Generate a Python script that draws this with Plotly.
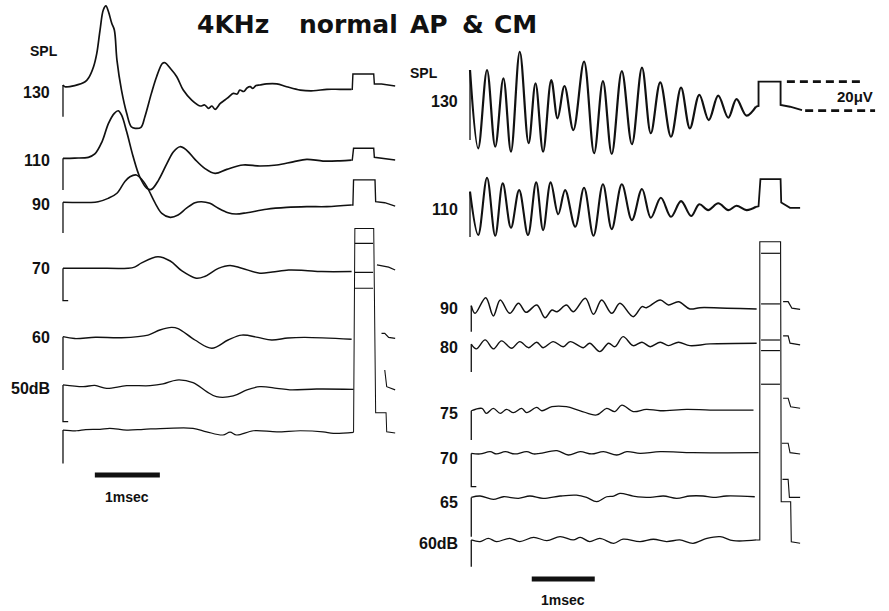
import plotly.graph_objects as go

# ===================== DATA =====================
# time in ms after stimulus onset; amplitude in µV relative to each trace's own baseline

# ---- Left panel: whole-nerve AP, 4 kHz ----
left_labels = ["130", "110", "90", "70", "60", "50dB", ""]

L130_t = [0.00, 0.03, 0.18, 0.34, 0.39, 0.47, 0.52, 0.57, 0.62, 0.66, 0.70, 0.75, 0.79, 0.83, 0.90, 0.98,
          1.05, 1.11, 1.20, 1.26, 1.36, 1.44, 1.53, 1.57, 1.65, 1.75, 1.85, 1.98, 2.11, 2.18, 2.24, 2.29,
          2.34, 2.42, 2.49, 2.55, 2.62, 2.68, 2.72, 2.78, 2.83, 2.88, 2.92, 2.97, 3.03, 3.13, 3.29, 3.44,
          3.65, 3.85, 4.06, 4.26, 4.44]
L130_v = [2.1, 0.9, 1.7, 4.3, 6.7, 14.7, 23.9, 40.0, 53.8, 56.6, 52.6, 44.6, 40.0, 19.3, -1.4, -17.4,
          -26.7, -27.8, -27.1, -19.8, -3.7, 7.8, 17.0, 17.4, 13.6, 7.8, -1.4, -8.3, -12.4, -11.7, -14.0, -12.4,
          -14.7, -10.6, -8.3, -6.2, -3.7, -4.1, -1.4, -2.4, 0.0, 0.9, -0.3, 1.7, 2.1, 2.8, 2.8, 0.9,
          -1.4, -1.9, -0.9, -0.9, -0.9]
L110_t = [0.00, 0.18, 0.39, 0.49, 0.60, 0.70, 0.79, 0.85, 0.90, 0.98, 1.08, 1.18, 1.29, 1.36, 1.47, 1.60,
          1.70, 1.80, 1.90, 2.03, 2.18, 2.34, 2.52, 2.77, 3.03, 3.29, 3.54, 3.75, 4.00, 4.26, 4.44]
L110_v = [-0.2, 0.0, 0.5, 2.8, 11.2, 23.9, 30.8, 32.6, 29.7, 18.1, 0.9, -12.9, -20.9, -21.6, -15.2, -3.7,
          4.3, 7.8, 5.5, -0.9, -7.1, -10.6, -7.8, -4.8, -5.5, -4.8, -2.6, -0.9, -2.1, -1.9, -1.4]
L90_t = [0.00, 0.54, 0.70, 0.83, 0.95, 1.03, 1.13, 1.21, 1.29, 1.42, 1.52, 1.65, 1.77, 1.90, 2.03, 2.13,
         2.26, 2.39, 2.54, 2.66, 2.83, 3.13, 3.44, 3.75, 4.06, 4.44]
L90_v = [-0.2, 0.2, 2.6, 6.0, 14.0, 17.4, 18.6, 15.7, 10.6, -0.9, -7.8, -10.6, -9.0, -4.3, -0.5, 0.2,
         -0.9, -4.3, -7.4, -8.3, -7.4, -5.0, -3.7, -3.2, -3.2, -2.1]
L70_t = [0.00, 0.50, 1.00, 1.10, 1.21, 1.46, 1.65, 1.83, 2.05, 2.18, 2.39, 2.57, 2.75, 3.03, 3.22, 3.47,
         3.72, 3.98, 4.44]
L70_v = [0.0, 0.0, 0.0, 0.8, 3.7, 8.0, 5.0, -1.9, -6.9, -5.7, -0.1, 1.9, 0.0, -3.4, -2.6, -1.2,
         -1.5, -2.3, -2.3]
L60_t = [0.00, 0.18, 0.50, 0.90, 1.31, 1.49, 1.67, 1.77, 2.03, 2.29, 2.54, 2.75, 3.00, 3.21, 3.46, 3.72, 4.44]
L60_v = [0.6, -0.7, 0.2, -0.1, 1.7, 5.2, 7.0, 6.2, -1.7, -7.4, -1.7, 1.7, 0.1, -1.7, -0.3, 0.1, -1.2]
L50_t = [0.00, 0.31, 0.49, 0.67, 0.98, 1.34, 1.54, 1.75, 2.00, 2.21, 2.36, 2.62, 2.83, 3.03, 3.29, 3.49,
         3.90, 4.47]
L50_v = [0.0, -1.2, -0.3, -2.3, -0.5, -0.5, 0.7, 3.4, 1.6, -4.6, -8.1, -7.6, -3.4, -1.2, -2.3, -3.4,
         -2.8, -3.0]
L40_t = [0.00, 0.21, 0.35, 0.57, 0.72, 0.98, 1.24, 1.60, 2.00, 2.21, 2.46, 2.57, 2.67, 2.93, 3.29, 3.65,
         4.00, 4.16, 4.47]
L40_v = [0.0, -0.5, 0.3, 0.5, 1.2, 0.0, 0.5, 1.2, 1.2, -1.2, -3.4, -1.4, -3.4, -0.5, -1.2, -0.5,
         -1.2, -2.3, -1.6]
left_waves = [(L130_t, L130_v), (L110_t, L110_v), (L90_t, L90_v), (L70_t, L70_v),
              (L60_t, L60_v), (L50_t, L50_v), (L40_t, L40_v)]

# stimulus artifacts / post-stimulus tails (left)
left_art = [
    ([4.44, 4.45, 4.46, 4.78, 4.79, 4.90, 5.11], [-0.9, -0.9, 9.7, 9.7, 2.8, 2.8, 1.4]),
    ([4.44, 4.45, 4.47, 4.78, 4.79, 4.95, 5.11], [-1.4, -1.4, 6.7, 6.7, 0.5, -0.2, -1.4]),
    ([4.44, 4.46, 4.47, 4.80, 4.81, 4.95, 5.11], [-2.1, -2.1, 15.2, 15.2, 0.2, -0.5, -2.8]),
    ([4.83, 5.01, 5.11], [2.3, 0.7, -1.2]),
    ([4.90, 4.95, 5.01, 5.11], [2.9, 2.9, 0.1, -0.6]),
    ([4.95, 4.98, 5.11], [10.3, -1.2, -3.4]),
    ([4.47, 4.49, 4.78, 4.81, 4.97, 4.98, 5.11], [-1.6, 139.0, 139.0, 11.9, 11.9, -1.2, -2.1]),
]
left_box_lines = [17.2, -2.8, -13.8]          # saturated pulse levels (rel. 70 dB trace)
left_marker_depth = [-19.8, -22.1, -21.4, -22.3, -22.4, -25.3, -23.0]
left_marker_tick = [False, False, False, True, False, True, False]

# ---- Right panel: cochlear microphonic (CM), 4 kHz ----
right_labels = ["130", "110", "90", "80", "75", "70", "65", "60dB"]

R130_t = [0.00, 0.13, 0.27, 0.40, 0.53, 0.65, 0.79, 0.93, 1.04, 1.16, 1.29, 1.39, 1.50, 1.64, 1.81, 1.97,
          2.11, 2.25, 2.41, 2.57, 2.73, 2.87, 3.02, 3.19, 3.35, 3.49, 3.64, 3.79, 3.94, 4.10, 4.23, 4.39, 4.54]
R130_v = [24.8, -29.2, 24.8, -28.1, 19.1, -31.5, 37.4, -25.7, 15.7, -31.5, 17.9, -8.5, 13.8, -16.6, 30.6,
          -32.6, 17.2, -33.1, 24.1, -26.4, 26.4, -18.8, 16.3, -21.2, 12.6, -15.4, 7.6, -9.7, 7.1, -8.1, 4.8,
          -6.7, -0.5]
R110_t = [0.00, 0.13, 0.27, 0.40, 0.52, 0.65, 0.78, 0.92, 1.05, 1.16, 1.28, 1.40, 1.51, 1.67, 1.81, 1.96,
          2.11, 2.25, 2.41, 2.57, 2.73, 2.87, 3.03, 3.19, 3.35, 3.51, 3.64, 3.78, 3.94, 4.10, 4.23, 4.39, 4.54]
R110_v = [10.6, -19.3, 20.2, -19.8, 16.3, -14.3, 11.7, -19.3, 17.0, -15.9, 17.0, -5.0, 11.7, -13.6, 13.3,
          -19.8, 15.7, -15.2, 15.7, -9.0, 12.4, -7.4, 6.4, -6.7, 4.1, -6.2, 1.9, -2.1, 2.6, -2.1, 0.9, -2.1, 0.2]
R90_t = [0.02, 0.08, 0.25, 0.37, 0.48, 0.63, 0.77, 0.89, 1.06, 1.19, 1.30, 1.38, 1.53, 1.64, 1.83, 1.96,
         2.09, 2.25, 2.38, 2.59, 2.73, 2.80, 3.02, 3.15, 3.31, 3.49, 3.65, 3.97, 4.29, 4.55]
R90_v = [2.3, -3.0, 7.8, -4.8, 6.2, -3.0, 3.9, -2.3, 2.8, -6.0, -0.7, -1.9, 2.8, -1.9, 7.4, -3.7,
         6.2, -3.0, 3.9, -5.3, 1.6, 0.9, 6.2, 2.8, 5.0, 0.0, 0.9, 0.7, 0.3, 0.0]
R80_t = [0.02, 0.10, 0.24, 0.37, 0.50, 0.66, 0.79, 0.93, 1.06, 1.16, 1.32, 1.48, 1.59, 1.80, 1.90, 2.06,
         2.20, 2.30, 2.43, 2.59, 2.73, 2.86, 3.02, 3.15, 3.31, 3.49, 3.81, 4.55]
R80_v = [-0.2, -3.4, 2.8, -3.4, 2.1, -3.0, 1.6, -2.6, 1.2, -2.6, 1.6, -1.9, 1.6, -2.6, 0.5, -5.3,
         0.5, -1.9, 5.0, -1.2, 1.2, -1.9, 1.2, -1.2, 1.2, -1.2, 0.0, 0.5]
R75_t = [0.02, 0.19, 0.26, 0.37, 0.48, 0.58, 0.69, 0.82, 0.90, 1.06, 1.14, 1.30, 1.53, 1.75, 2.01, 2.17,
         2.30, 2.41, 2.59, 2.80, 3.02, 3.44, 3.81, 4.50]
R75_v = [-0.5, 1.1, -2.3, 1.1, -2.3, 0.5, -1.8, 1.1, -1.8, 1.8, -0.5, 2.3, 2.3, -0.5, -3.4, 1.1,
         -1.1, 3.4, -1.1, 0.5, -0.5, 0.5, 0.0, 0.0]
R70_t = [0.02, 0.16, 0.32, 0.42, 0.56, 0.71, 0.90, 1.01, 1.11, 1.38, 1.56, 1.75, 1.93, 2.12, 2.33, 2.49,
         2.70, 3.02, 3.54, 4.58]
R70_v = [-0.5, -0.9, 0.7, -0.9, 0.7, -0.9, 0.7, -0.9, -0.5, 1.4, -1.6, 0.7, -0.9, 0.7, -1.6, 0.7,
         -0.5, 0.7, 0.0, 0.0]
R65_t = [0.02, 0.16, 0.37, 0.53, 0.77, 0.95, 1.16, 1.43, 1.69, 1.85, 2.01, 2.17, 2.28, 2.38, 2.59, 2.86,
         3.07, 3.28, 3.49, 3.70, 3.86, 4.07, 4.52]
R65_v = [-0.5, 0.5, -1.8, 0.0, -1.1, 0.5, -1.1, 0.5, 1.1, -0.5, -3.4, 0.0, 0.5, 2.3, 0.5, -0.5,
         0.5, -1.1, 0.5, 0.5, -0.5, 0.5, 0.0]
R60_t = [0.02, 0.16, 0.29, 0.42, 0.63, 0.79, 1.01, 1.22, 1.43, 1.64, 1.75, 1.90, 2.06, 2.28, 2.43, 2.70,
         2.91, 3.12, 3.33, 3.54, 3.76, 3.97, 4.18, 4.55]
R60_v = [0.0, -1.1, 1.1, -1.1, 1.1, -1.1, 1.8, -0.5, 2.3, 0.0, 1.8, -1.1, 1.1, -2.3, 0.5, -1.1,
         0.5, -1.1, 0.0, -2.3, 1.1, 2.3, -0.5, 0.0]
right_waves = [(R130_t, R130_v), (R110_t, R110_v), (R90_t, R90_v), (R80_t, R80_v),
               (R75_t, R75_v), (R70_t, R70_v), (R65_t, R65_v), (R60_t, R60_v)]

right_art = [
    ([4.54, 4.58, 4.58, 4.93, 4.93, 5.08, 5.27], [-0.5, 0.0, 16.8, 16.8, 0.7, -0.5, -2.8]),
    ([4.54, 4.58, 4.61, 4.93, 4.94, 5.08, 5.24], [0.2, 0.5, 19.3, 19.3, 3.2, -0.5, -0.5]),
    ([4.97, 5.05, 5.11, 5.24], [5.0, 5.0, 0.5, -0.2]),
    ([4.97, 5.05, 5.08, 5.24], [5.5, 5.5, 0.5, -0.7]),
    ([4.97, 5.05, 5.09, 5.24], [8.1, 8.1, 2.3, 1.2]),
    ([4.95, 5.05, 5.08, 5.24], [6.5, 6.5, 0.0, -0.9]),
    ([4.96, 5.05, 5.07, 5.24], [12.0, 12.0, -0.4, -0.4]),
    ([4.55, 4.60, 4.60, 4.93, 4.94, 5.09, 5.10, 5.24], [0.0, 0.0, 205.7, 205.7, 26.4, 26.4, -1.2, -2.3]),
]
right_box_lines = [197.7, 162.8, 137.9, 130.6, 107.4]   # rel. 60 dB trace
right_marker_depth = [-23.4, -20.7, -15.7, -19.3, -20.7, -23.4, -27.6, -18.4]
right_marker_tick = [False, False, False, False, False, True, False, False]

CAL_UV = 20.0        # calibration bar, µV
SCALE_MS = 1.0       # time scale bar, ms

title_words = ["4KHz", "normal", "AP", "&", "CM"]

# ===================== LAYOUT CONSTANTS =====================
left_offsets = [-60.7, -109.0, -139.3, -185.0, -232.8, -265.5, -296.6]
right_offsets = [-73.1, -142.8, -213.1, -237.2, -282.8, -312.2, -342.6, -372.4]
left_label_dy = [-2.8, -1.4, -1.4, 0.0, 0.0, -2.1, 0.0]
right_label_dy = [3.0, -1.4, 0.0, -2.8, -2.1, -3.7, -3.7, -2.1]
title_x_px = [195, 297, 408, 460, 492]

FONT = "Liberation Sans, Arial, Helvetica, sans-serif"
TFONT = "DejaVu Sans, Liberation Sans, sans-serif"
INK = "#111111"

fig = go.Figure()


def line(x, y, axis, width, shape="linear", dash=None):
    fig.add_trace(go.Scatter(
        x=x, y=y, xaxis=axis, yaxis="y", mode="lines",
        line=dict(color=INK, width=width, shape=shape, smoothing=1.0, dash=dash),
        hoverinfo="skip", showlegend=False))


def panel(waves, arts, offsets, depths, ticks, axis, widths):
    for i, ((t, v), (at, av), off) in enumerate(zip(waves, arts, offsets)):
        line(t, [off + a for a in v], axis, widths[i], shape="spline")
        line(at, [off + a for a in av], axis, widths[i] * 0.85)
        t0 = t[0]
        mx = [t0, t0]
        my = [off + v[0], off + depths[i]]
        if ticks[i]:
            mx.append(t0 + 0.08)
            my.append(off + depths[i])
        line(mx, my, axis, 1.3)


panel(left_waves, left_art, left_offsets, left_marker_depth, left_marker_tick, "x",
      [1.7, 1.7, 1.6, 1.5, 1.4, 1.3, 1.2])
panel(right_waves, right_art, right_offsets, right_marker_depth, right_marker_tick, "x2",
      [2.2, 2.1, 1.5, 1.4, 1.3, 1.3, 1.3, 1.3])

# saturated pulse inner levels
for lv in left_box_lines:
    line([4.49, 4.77], [left_offsets[3] + lv] * 2, "x", 1.2)
for lv in right_box_lines:
    line([4.62, 4.92], [right_offsets[7] + lv] * 2, "x2", 1.2)

# 20 µV calibration (dashed) next to the 130 dB CM trace
cal_top = right_art[0][1][2]
line([5.03, 6.22], [right_offsets[0] + cal_top] * 2, "x2", 2.6, dash="8px,5px")
line([5.32, 6.43], [right_offsets[0] + cal_top - CAL_UV] * 2, "x2", 2.6, dash="8px,5px")

# 1 ms scale bars
line([0.49, 0.49 + SCALE_MS], [-327.6, -327.6], "x", 5)
line([0.98, 0.98 + SCALE_MS], [-399.3, -399.3], "x2", 5)

ann = []


def text(s, x, y, xref, size, xanchor="center", yref="y"):
    ann.append(dict(text="<b>" + s + "</b>", x=x, y=y, xref=xref, yref=yref, showarrow=False,
                    xanchor=xanchor, yanchor="middle", font=dict(family=FONT, size=size, color=INK)))


for lab, off, dy in zip(left_labels, left_offsets, left_label_dy):
    if lab:
        text(lab, -0.17, off + dy, "x", 16, "right")
for lab, off, dy in zip(right_labels, right_offsets, right_label_dy):
    text(lab, -0.16, off + dy, "x2", 16, "right")

text("SPL", 44 / 889, 1 - 51 / 611, "paper", 14, yref="paper")
text("SPL", 424 / 889, 1 - 73 / 611, "paper", 14, yref="paper")
text("20μV", 6.43, right_offsets[0] + cal_top - CAL_UV / 2, "x2", 15, "right")
text("1msec", 0.49 + SCALE_MS / 2, -342.6, "x", 14)
text("1msec", 0.98 + SCALE_MS / 2, -413.8, "x2", 14)

for w, px in zip(title_words, title_x_px):
    ann.append(dict(text="<b>" + w + "</b>", x=px / 889, y=1 - 24 / 611, xref="paper", yref="paper",
                    showarrow=False, xanchor="left", yanchor="middle",
                    font=dict(family=TFONT, size=25, color=INK)))

fig.update_layout(
    width=889, height=611, margin=dict(l=0, r=0, t=0, b=0),
    paper_bgcolor="white", plot_bgcolor="white", showlegend=False,
    xaxis=dict(domain=[0, 0.5], range=[-0.969, 5.869], visible=False, anchor="y"),
    xaxis2=dict(domain=[0.5, 1.0], range=[-0.405, 6.651], visible=False, anchor="y"),
    yaxis=dict(domain=[0, 1], range=[-421.4, 0], visible=False, anchor="x"),
    annotations=ann,
)

fig.write_html("out.html")
